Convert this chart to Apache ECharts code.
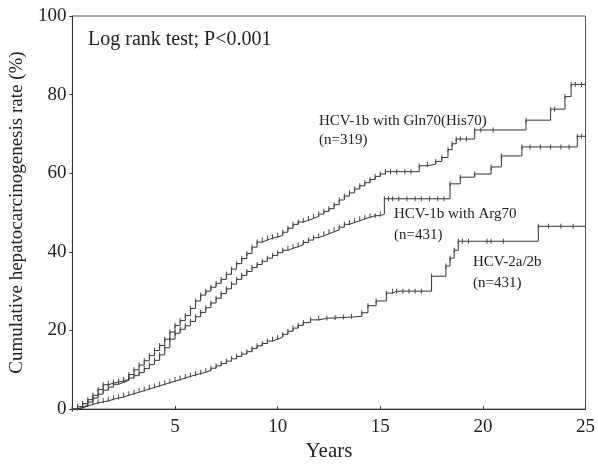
<!DOCTYPE html>
<html>
<head>
<meta charset="utf-8">
<script src="https://cdn.jsdelivr.net/npm/echarts@6/dist/echarts.min.js"></script>
<style>html,body{margin:0;padding:0;background:#fff;}#c{width:598px;height:467px;}</style>
</head>
<body>
<div id="c"></div>
<script>
// Cumulative hepatocarcinogenesis (years, %)
var gln70 = [[0,0],[0.25,0.6],[0.5,1.4],[0.75,2.4],[1.0,3.5],[1.25,5],[1.5,6.2],[1.75,6.6],[2.0,6.9],[2.25,7.1],[2.5,7.6],[2.75,8.8],[3.0,10],[3.25,11.2],[3.5,12.3],[3.75,13.6],[4.0,14.9],[4.25,16.2],[4.5,17.8],[4.75,19.6],[5.0,21.3],[5.25,22.5],[5.5,23.8],[5.75,25.6],[6.0,27.5],[6.25,29],[6.5,30],[6.75,31],[7.0,32],[7.25,33],[7.5,34.3],[7.75,35.6],[8.0,37],[8.25,38.3],[8.5,39.6],[8.75,41.2],[9.0,42.5],[9.25,43],[9.5,43.5],[9.75,43.8],[10.0,44.2],[10.25,45],[10.5,46],[10.75,47],[11.0,47.6],[11.25,48],[11.5,48.5],[11.75,49],[12.0,49.6],[12.25,50.3],[12.5,51],[12.75,52],[13.0,53.2],[13.25,54.2],[13.5,55],[13.75,56],[14.0,56.8],[14.25,57.6],[14.5,58.4],[14.75,59.2],[15.0,59.8],[15.25,60.4],[15.5,60.4],[15.8,60.4],[16.2,60.4],[16.5,60.4],[16.9,61.9],[17.3,62.3],[17.7,63],[18.0,64],[18.3,66],[18.5,67.5],[18.7,68.7],[18.9,68.7],[19.2,68.7],[19.6,71],[19.9,71],[20.5,71],[22.1,73.5],[23.3,76.3],[23.5,76.3],[24.0,79.5],[24.3,82.6],[24.5,82.6],[24.8,82.6],[25,82.6]];
var arg70 = [[0,0],[0.25,0.5],[0.5,1],[0.75,1.8],[1.0,2.8],[1.25,3.8],[1.5,4.8],[1.75,5.6],[2.0,6.3],[2.25,6.8],[2.5,7.3],[2.75,7.9],[3.0,8.5],[3.25,9.3],[3.5,10.3],[3.75,11.3],[4.0,12.4],[4.25,13.8],[4.5,15.6],[4.75,17.8],[5.0,19.3],[5.25,20.3],[5.5,21.2],[5.75,22.3],[6.0,23.5],[6.25,24.6],[6.5,25.8],[6.75,27],[7.0,28.2],[7.25,29.4],[7.5,30.6],[7.75,31.8],[8.0,33],[8.25,34],[8.5,35],[8.75,36],[9.0,36.8],[9.25,37.6],[9.5,38.4],[9.75,39.1],[10.0,39.8],[10.25,40.4],[10.5,40.9],[10.75,41.3],[11.0,41.8],[11.25,42.4],[11.5,43],[11.75,43.6],[12.0,44.1],[12.25,44.6],[12.5,45.1],[12.75,45.6],[13.0,46.3],[13.25,47],[13.5,47.5],[13.75,47.9],[14.0,48.4],[14.25,48.8],[14.5,49.2],[14.75,49.2],[15.0,49.6],[15.2,53.5],[15.4,53.5],[15.6,53.5],[15.9,53.5],[16.3,53.5],[16.7,53.5],[17.0,53.5],[17.4,53.5],[17.8,53.5],[18.1,53.5],[18.4,57.3],[18.9,59],[19.6,59.8],[20.4,61.6],[20.9,64.4],[21.9,66.7],[22.3,66.7],[22.8,66.7],[23.3,66.7],[23.8,66.7],[24.2,66.7],[24.6,69.4],[24.8,69.4],[25,69.4]];
var hcv2 = [[0,0],[0.25,0.3],[0.5,0.8],[0.75,1.2],[1.0,1.6],[1.25,1.8],[1.5,2.1],[1.75,2.5],[2.0,2.8],[2.25,3.1],[2.5,3.5],[2.75,3.9],[3.0,4.3],[3.25,4.7],[3.5,5.1],[3.75,5.5],[4.0,5.9],[4.25,6.3],[4.5,6.7],[4.75,7.1],[5.0,7.5],[5.25,7.9],[5.5,8.3],[5.75,8.7],[6.0,9.0],[6.25,9.4],[6.5,9.8],[6.75,10.4],[7.0,11],[7.25,11.6],[7.5,12.2],[7.75,12.8],[8.0,13.4],[8.25,14],[8.5,14.6],[8.75,15.4],[9.0,16.1],[9.25,16.7],[9.5,17.3],[9.75,17.8],[10.0,18.3],[10.25,19],[10.5,19.8],[10.75,20.6],[11.0,21.3],[11.25,22],[11.6,22.7],[12.0,23.1],[12.4,23.2],[12.8,23.3],[13.2,23.4],[13.6,23.6],[14.1,24.5],[14.4,26.3],[14.8,27.5],[15.3,29.5],[15.6,30],[15.8,30],[16.1,30],[16.4,30],[16.7,30],[17.0,30],[17.5,33.8],[18.2,36.4],[18.4,38.4],[18.6,40.4],[18.8,42.7],[19.0,42.7],[19.3,42.7],[20.2,42.7],[20.4,42.7],[21.0,42.7],[22.7,46.5],[23.2,46.5],[23.8,46.5],[24.4,46.5],[25,46.5]];
var yTicks = [0,20,40,60,80,100];
var xTicks = [0,5,10,15,20,25];

var FONT = '"Liberation Serif", "DejaVu Serif", serif';
var INK = '#222';
function kmSeries(name, data) {
  return {
    name: name, type: 'line', step: 'end', data: data,
    symbol: 'rect', symbolSize: [1, 5], showSymbol: true, showAllSymbol: true,
    itemStyle: {color: '#444'},
    lineStyle: {color: '#333', width: 1},
    animation: false, silent: true
  };
}
var chart = echarts.init(document.getElementById('c'));
chart.setOption({
  backgroundColor: '#fff',
  animation: false,
  grid: {left: 72, right: 10, top: 16, bottom: 55, show: true, borderColor: '#555', borderWidth: 1},
  xAxis: {
    type: 'value', min: xTicks[0], max: xTicks[xTicks.length - 1], interval: 5,
    name: 'Years', nameLocation: 'middle', nameGap: 29,
    nameTextStyle: {fontFamily: FONT, fontSize: 21, color: INK},
    axisLine: {show: true, lineStyle: {color: '#333', width: 1}},
    axisTick: {show: true, inside: true, length: 3, lineStyle: {color: '#333'}},
    axisLabel: {fontFamily: FONT, fontSize: 19, color: INK, margin: 8,
      formatter: function (v) { return v === 0 ? '' : String(v); }},
    splitLine: {show: false}
  },
  yAxis: {
    type: 'value', min: yTicks[0], max: yTicks[yTicks.length - 1], interval: 20,
    name: 'Cumulative hepatocarcinogenesis rate (%)', nameLocation: 'middle', nameGap: 45,
    nameTextStyle: {fontFamily: FONT, fontSize: 19, color: INK},
    axisLine: {show: true, lineStyle: {color: '#333', width: 1}},
    axisTick: {show: true, inside: false, length: 3, lineStyle: {color: '#333'}},
    axisLabel: {fontFamily: FONT, fontSize: 19, color: INK, margin: 6},
    splitLine: {show: false}
  },
  series: [kmSeries('gln70', gln70), kmSeries('arg70', arg70), kmSeries('hcv2', hcv2)],
  graphic: [
    {type: 'text', left: 88, top: 30, style: {text: 'Log rank test; P<0.001', font: '20px ' + FONT, fill: INK}},
    {type: 'text', left: 319, top: 112, style: {text: 'HCV-1b with Gln70(His70)\n(n=319)', font: '15px ' + FONT, fill: INK, lineHeight: 19}},
    {type: 'text', left: 394, top: 204, style: {text: 'HCV-1b with Arg70\n(n=431)', font: '15px ' + FONT, fill: INK, lineHeight: 21}},
    {type: 'text', left: 473, top: 252, style: {text: 'HCV-2a/2b\n(n=431)', font: '15px ' + FONT, fill: INK, lineHeight: 21}}
  ]
});
</script>
</body>
</html>
